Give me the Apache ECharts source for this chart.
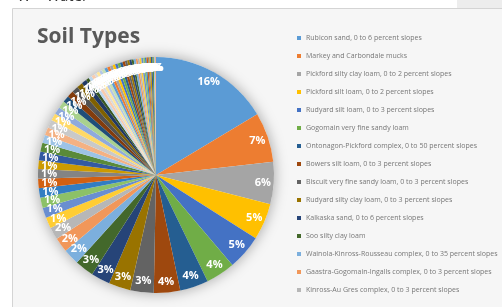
<!DOCTYPE html>
<html lang="en">
<head>
    <meta charset="UTF-8">
    <title>Soil Types</title>
    <script src="https://cdn.jsdelivr.net/npm/echarts@6.0.0/dist/echarts.min.js"></script>
    <style>
        html, body {
            margin: 0;
            padding: 0;
            background: #ffffff;
        }
        #chart {
            width: 502px;
            height: 307px;
        }
    </style>
</head>
<body>
    <div id="chart"></div>

    <script>
        const chartTitle = 'Soil Types';

        // named map units (the ones shown in the legend)
        const namedSoils = [
            'Rubicon sand, 0 to 6 percent slopes',
            'Markey and Carbondale mucks',
            'Pickford silty clay loam, 0 to 2 percent slopes',
            'Pickford silt loam, 0 to 2 percent slopes',
            'Rudyard silt loam, 0 to 3 percent slopes',
            'Gogomain very fine sandy loam',
            'Ontonagon-Pickford complex, 0 to 50 percent slopes',
            'Bowers silt loam, 0 to 3 percent slopes',
            'Biscuit very fine sandy loam, 0 to 3 percent slopes',
            'Rudyard silty clay loam, 0 to 3 percent slopes',
            'Kalkaska sand, 0 to 6 percent slopes',
            'Soo silty clay loam',
            'Wainola-Kinross-Rousseau complex, 0 to 35 percent slopes',
            'Gaastra-Gogomain-Ingalls complex, 0 to 3 percent slopes',
            'Kinross-Au Gres complex, 0 to 3 percent slopes'
        ];
        const namedValues = [16.4, 6.8, 5.8, 5.0, 4.8, 4.0, 3.9, 3.6, 3.2, 3.0, 2.6, 2.6, 2.2, 2.0, 1.7];

        // the rest of the map units (legend cut off in the picture)
        const otherValues = [
            1.5, 1.4, 1.4, 1.3, 1.3, 1.3, 1.2, 1.2, 1.2, 1.1,
            1.1, 1.1, 1.0, 1.0, 1.0, 0.9, 0.9, 0.9, 0.8, 0.7,
            0.45, 0.45, 0.45, 0.35, 0.4, 0.4, 0.4, 0.4, 0.4, 0.4,
            0.35, 0.35, 0.35, 0.35, 0.35, 0.3, 0.3, 0.3, 0.3, 0.3,
            0.25, 0.25, 0.25, 0.25, 0.25, 0.2, 0.2, 0.2, 0.2, 0.2,
            0.2, 0.15, 0.15
        ];

        // office style colours, cycled
        const palette = [
            '#5B9BD5', '#ED7D31', '#A5A5A5', '#FFC000', '#4472C4', '#70AD47',
            '#255E91', '#9E480E', '#636363', '#997300', '#264478', '#43682B',
            '#7CAFDD', '#F1975A', '#B7B7B7', '#FFCD33', '#698ED0', '#8CC168',
            '#327DC2', '#D26012', '#848484', '#CC9A00', '#335AA1', '#5A8A39',
            '#9DC3E6', '#F4B183', '#C9C9C9', '#FFD966', '#8FAADC', '#A9D18E',
            '#1F4E79', '#843C0C', '#525252', '#7F6000', '#203864', '#385723',
            '#BDD7EE', '#F8CBAD', '#DBDBDB', '#FFE699', '#B4C7E7', '#C5E0B4'
        ];

        const values = namedValues.concat(otherValues);
        const names = namedSoils.concat(otherValues.map((v, i) => 'Map unit ' + (i + 16)));
        const total = values.reduce((a, b) => a + b, 0);
        const pieData = values.map((v, i) => ({ name: names[i], value: v }));

        const chart = echarts.init(document.getElementById('chart'));
        chart.setOption({
            animation: false,
            color: palette,
            graphic: [
                {
                    type: 'rect', z: -10,
                    shape: { x: 12.5, y: 8.5, width: 520, height: 320 },
                    style: { fill: '#f6f6f6', stroke: '#d4d4d4', lineWidth: 1 }
                },
                {
                    type: 'rect', z: -10,
                    shape: { x: 457, y: 0, width: 45, height: 8 },
                    style: { fill: '#ededed' }
                },
                {
                    type: 'text', z: -5, left: 17, top: -11,
                    style: { text: 'W \u2013 Water', fontSize: 15, fontFamily: 'Open Sans', fill: '#333333' }
                }
            ],
            title: {
                text: chartTitle,
                left: 37,
                top: 27,
                padding: 0,
                textStyle: { fontFamily: 'Open Sans', fontWeight: 'bold', fontSize: 21, color: '#595959' }
            },
            legend: {
                data: namedSoils,
                orient: 'vertical',
                left: 297,
                top: 34,
                padding: 0,
                icon: 'rect',
                itemWidth: 4,
                itemHeight: 4,
                itemGap: 10,
                textStyle: { fontFamily: 'Open Sans', fontSize: 7, color: '#777777', lineHeight: 8 }
            },
            series: [
                {
                    // soft shadow under the pie
                    type: 'pie', silent: true, center: [156, 175], radius: [0, 118],
                    label: { show: false }, labelLine: { show: false },
                    itemStyle: { color: '#ffffff', shadowBlur: 14, shadowColor: 'rgba(0,0,0,0.35)' },
                    data: [{ name: '', value: 1 }]
                },
                {
                    type: 'pie', center: [156, 175], radius: [0, 118],
                    startAngle: 90, clockwise: true,
                    label: { show: false }, labelLine: { show: false },
                    itemStyle: { borderWidth: 0 },
                    data: pieData
                },
                {
                    // transparent ring used only to put the labels near the rim
                    type: 'pie', silent: true, center: [156, 175], radius: [90, 118],
                    startAngle: 90, clockwise: true, legendHoverLink: false,
                    avoidLabelOverlap: false,
                    itemStyle: { color: 'transparent', borderWidth: 0 },
                    labelLine: { show: false },
                    labelLayout: { hideOverlap: false },
                    label: {
                        show: true, position: 'inside', overflow: 'none',
                        formatter: p => Math.round(p.value / total * 100) + '%',
                        fontFamily: 'Open Sans', fontWeight: 'bold', fontSize: 11, color: '#ffffff'
                    },
                    data: pieData
                }
            ]
        });
    </script>
</body>
</html>
